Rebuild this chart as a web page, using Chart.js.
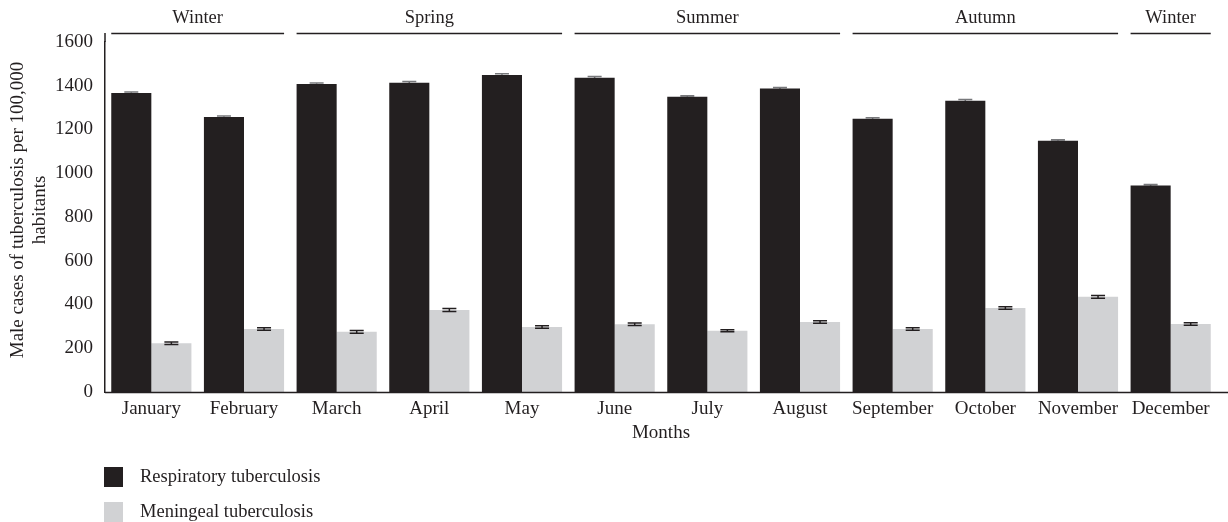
<!DOCTYPE html>
<html>
<head>
<meta charset="utf-8">
<script src="https://cdn.jsdelivr.net/npm/chart.js@4"></script>
<style>
  html, body { margin: 0; padding: 0; background: #fff; }
  #wrap { width: 1228px; height: 522px; }
</style>
</head>
<body>
<div id="wrap"><canvas id="chart"></canvas></div>
<script>
// Data
const months = ['January', 'February', 'March', 'April', 'May', 'June',
                'July', 'August', 'September', 'October', 'November', 'December'];
const respiratory    = [1367, 1257, 1408, 1414, 1449, 1437, 1350, 1387, 1249, 1332, 1149, 944];
const respiratoryErr = [5, 5, 5, 6, 6, 5, 4, 5, 5, 5, 4, 5];
const meningeal      = [223, 288, 275, 375, 297, 310, 280, 320, 288, 384, 435, 311];
const meningealErr   = [6, 6, 6, 7, 6, 6, 5, 6, 6, 6, 6, 6];

// Season headers (index of first and last month)
const seasons    = ['Winter', 'Spring', 'Summer', 'Autumn', 'Winter'];
const seasonFrom = [0, 2, 5, 8, 11];
const seasonTo   = [1, 4, 7, 10, 11];

const yTitle = ['Male cases of tuberculosis per 100,000', 'habitants'];

const ink = '#231f20';
const font = 'Liberation Serif, Times New Roman, serif';

function drawErrors(chart, d, color) {
  const ctx = chart.ctx;
  const y = chart.scales.y;
  const ds = chart.data.datasets[d];
  const errs = d === 0 ? respiratoryErr : meningealErr;
  ctx.save();
  ctx.strokeStyle = color;
  ctx.lineWidth = 1.5;
  chart.getDatasetMeta(d).data.forEach((bar, i) => {
    const top = y.getPixelForValue(ds.data[i] + errs[i]);
    const bot = y.getPixelForValue(ds.data[i] - errs[i]);
    ctx.beginPath();
    ctx.moveTo(bar.x, top); ctx.lineTo(bar.x, bot);
    ctx.moveTo(bar.x - 7, top); ctx.lineTo(bar.x + 7, top);
    ctx.moveTo(bar.x - 7, bot); ctx.lineTo(bar.x + 7, bot);
    ctx.stroke();
  });
  ctx.restore();
}

// Error bars: behind the dark bars, on top of the light ones
const errorBars = {
  id: 'errorBars',
  beforeDatasetsDraw(chart) { drawErrors(chart, 0, '#77787b'); },
  afterDatasetsDraw(chart) { drawErrors(chart, 1, ink); }
};

// Season lines, axis lines, y title and legend
const decorations = {
  id: 'decorations',
  afterDraw(chart) {
    const ctx = chart.ctx;
    const area = chart.chartArea;
    const m0 = chart.getDatasetMeta(0).data;
    const m1 = chart.getDatasetMeta(1).data;
    ctx.save();
    ctx.strokeStyle = ink;
    ctx.fillStyle = ink;
    ctx.lineWidth = 1.5;

    // axis lines: x runs to the right edge, y a little above the top tick
    ctx.beginPath();
    ctx.moveTo(area.left, area.bottom + 0.5);
    ctx.lineTo(chart.width, area.bottom + 0.5);
    ctx.moveTo(area.left, 33);
    ctx.lineTo(area.left, area.top);
    ctx.stroke();

    ctx.font = '18.5px ' + font;
    ctx.textAlign = 'center';
    ctx.textBaseline = 'middle';
    seasons.forEach((s, k) => {
      const a = m0[seasonFrom[k]], b = m1[seasonTo[k]];
      const x0 = a.x - a.width / 2, x1 = b.x + b.width / 2;
      ctx.beginPath();
      ctx.moveTo(x0, 33.5); ctx.lineTo(x1, 33.5);
      ctx.stroke();
      ctx.fillText(s, (x0 + x1) / 2, 18);
    });

    // y axis title, two lines
    ctx.save();
    ctx.translate(0, 210);
    ctx.rotate(-Math.PI / 2);
    ctx.font = '19px ' + font;
    yTitle.forEach((t, k) => ctx.fillText(t, 0, 18 + k * 22));
    ctx.restore();

    // legend
    ctx.textAlign = 'left';
    chart.data.datasets.forEach((ds, d) => {
      const yy = 467 + d * 35;
      ctx.fillStyle = ds.backgroundColor;
      ctx.fillRect(104, yy, 19, 20);
      ctx.fillStyle = ink;
      ctx.fillText(ds.label, 140, yy + 10);
    });
    ctx.restore();
  }
};

new Chart(document.getElementById('chart'), {
  type: 'bar',
  data: {
    labels: months,
    datasets: [
      { label: 'Respiratory tuberculosis', data: respiratory, backgroundColor: ink },
      { label: 'Meningeal tuberculosis', data: meningeal, backgroundColor: '#d1d2d4' }
    ]
  },
  options: {
    responsive: true,
    maintainAspectRatio: false,
    animation: false,
    layout: { padding: { top: 42, right: 11, bottom: 78, left: 0 } },
    datasets: { bar: { categoryPercentage: 0.865, barPercentage: 1.0 } },
    plugins: { legend: { display: false }, tooltip: { enabled: false } },
    scales: {
      x: {
        grid: { display: false, drawTicks: false },
        border: { display: false },
        ticks: { color: ink, font: { family: font, size: 19 }, padding: 6, maxRotation: 0, autoSkip: false },
        title: { display: true, text: 'Months', color: ink, font: { family: font, size: 19 }, padding: 0 },
        afterFit(scale) { scale.height = 52; }
      },
      y: {
        min: 0,
        max: 1600,
        grid: { display: false, drawTicks: false },
        border: { display: true, color: ink, width: 1.5 },
        ticks: {
          count: 9,
          color: ink,
          font: { family: font, size: 19 },
          padding: 12,
          callback: (v) => String(v)
        },
        afterFit(scale) { scale.width = 105; }
      }
    }
  },
  plugins: [errorBars, decorations]
});
</script>
</body>
</html>
